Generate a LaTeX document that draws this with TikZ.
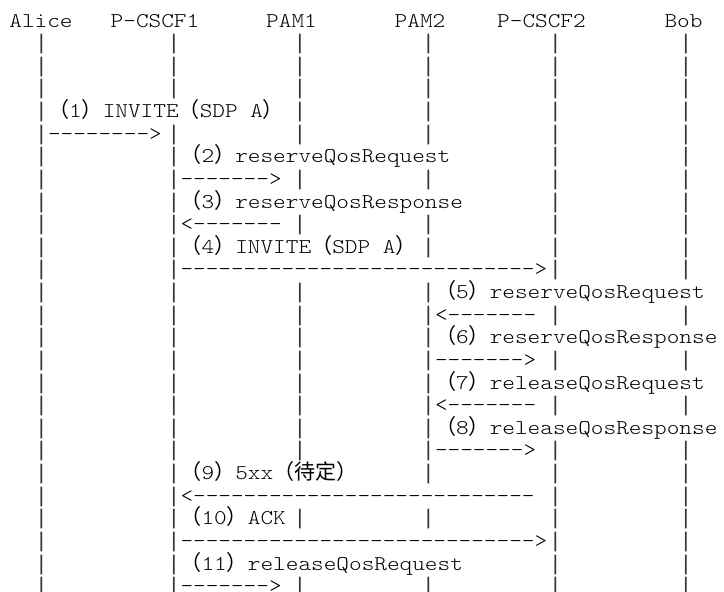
\documentclass[tikz,border=0pt]{standalone}
\usepackage{fontspec}
\setmonofont{Latin Modern Mono Light}[FakeStretch=1.147]
\newfontfamily\barfont{Liberation Mono}
\newfontfamily\cjk{Noto Sans CJK SC}
\newcommand\lpar{{\cjk\fontsize{21.08}{22.6}\selectfont （}}
\newcommand\rpar{{\cjk\fontsize{21.08}{22.6}\selectfont ）}}
\newcommand\txtfont{\ttfamily\fontsize{21}{22.6}\selectfont}
\begin{document}
\begin{tikzpicture}[x=1pt,y=-1pt,
  title/.style={anchor=base, inner sep=0pt, font=\txtfont},
  vbar/.style={anchor=base, inner sep=0pt, text=black!80, font=\barfont\fontsize{21.08}{22.6}\selectfont},
  msg/.style={anchor=base west, inner sep=0pt, font=\txtfont}]
\fill[white] (0,0) rectangle (724,592);
\useasboundingbox (0,0) rectangle (724,592);
% actors
\node[title] (alice)  at (41,27)    {Alice};
\node[title] (pcscf1) at (155,27)   {P-CSCF1};
\node[title] (pam1)   at (291.5,27) {PAM1};
\node[title] (pam2)   at (420,27)   {PAM2};
\node[title] (pcscf2) at (541.5,27) {P-CSCF2};
\node[title] (bob)    at (683.5,27) {Bob};
% lifeline glyphs
\def\colxs{{41.5,174,300,428.5,555.5,686}}
\foreach \r/\cs in {2/{1,2,3,4,5,6},3/{1,2,3,4,5,6},4/{1,2,3,4,5,6},
  5/{1,3,4,5,6},6/{1,2,3,4,5,6},7/{1,2,5,6},8/{1,2,3,4,5,6},9/{1,2,5,6},
  10/{1,2,3,4,5,6},11/{1,2,4,5,6},12/{1,2,5,6},13/{1,2,3,4},14/{1,2,3,4,5,6},
  15/{1,2,3,4},16/{1,2,3,4,5,6},17/{1,2,3,4},18/{1,2,3,4,5,6},19/{1,2,3,4},
  20/{1,2,3,4,5,6},21/{1,2,4,5,6},22/{1,2,5,6},23/{1,2,3,4,5,6},24/{1,2,5,6},
  25/{1,2,5,6},26/{1,2,3,4,5,6}}{
  \foreach \c in \cs {
    \pgfmathsetmacro\bx{\colxs[\c-1]}
    \pgfmathsetmacro\by{27+(\r-1)*22.625}
    \node[vbar] (bar-\r-\c) at (\bx,\by) {|};
  }
}
% messages
\node[msg] (m1)  at (47.8,117.5)    {\lpar 1\rpar INVITE\lpar SDP A\rpar};
\node[msg] (a1)  at (47.8,140.125)  {-------->};
\node[msg] (m2)  at (180.3,162.75)  {\lpar 2\rpar reserveQosRequest};
\node[msg] (a2)  at (180.3,185.375) {------->};
\node[msg] (m3)  at (180.3,208)     {\lpar 3\rpar reserveQosResponse};
\node[msg] (a3)  at (180.3,230.625) {<-------};
\node[msg] (m4)  at (180.3,253.25)  {\lpar 4\rpar INVITE\lpar SDP A\rpar};
\node[msg] (a4)  at (180.3,275.875) {---------------------------->};
\node[msg] (m5)  at (434.8,298.5)   {\lpar 5\rpar reserveQosRequest};
\node[msg] (a5)  at (434.8,321.125) {<-------};
\node[msg] (m6)  at (434.8,343.75)  {\lpar 6\rpar reserveQosResponse};
\node[msg] (a6)  at (434.8,366.375) {------->};
\node[msg] (m7)  at (434.8,389)     {\lpar 7\rpar releaseQosRequest};
\node[msg] (a7)  at (434.8,411.625) {<-------};
\node[msg] (m8)  at (434.8,434.25)  {\lpar 8\rpar releaseQosResponse};
\node[msg] (a8)  at (434.8,456.875) {------->};
\node[msg] (m9)  at (180.3,479.5)   {\lpar 9\rpar 5xx\lpar{\cjk 待定}\rpar};
\node[msg] (a9)  at (180.3,502.125) {<---------------------------};
\node[msg] (m10) at (180.3,524.75)  {\lpar 10\rpar ACK};
\node[msg] (a10) at (180.3,547.375) {---------------------------->};
\node[msg] (m11) at (180.3,570)     {\lpar 11\rpar releaseQosRequest};
\node[msg] (a11) at (180.3,592.625) {------->};
\end{tikzpicture}
\end{document}
